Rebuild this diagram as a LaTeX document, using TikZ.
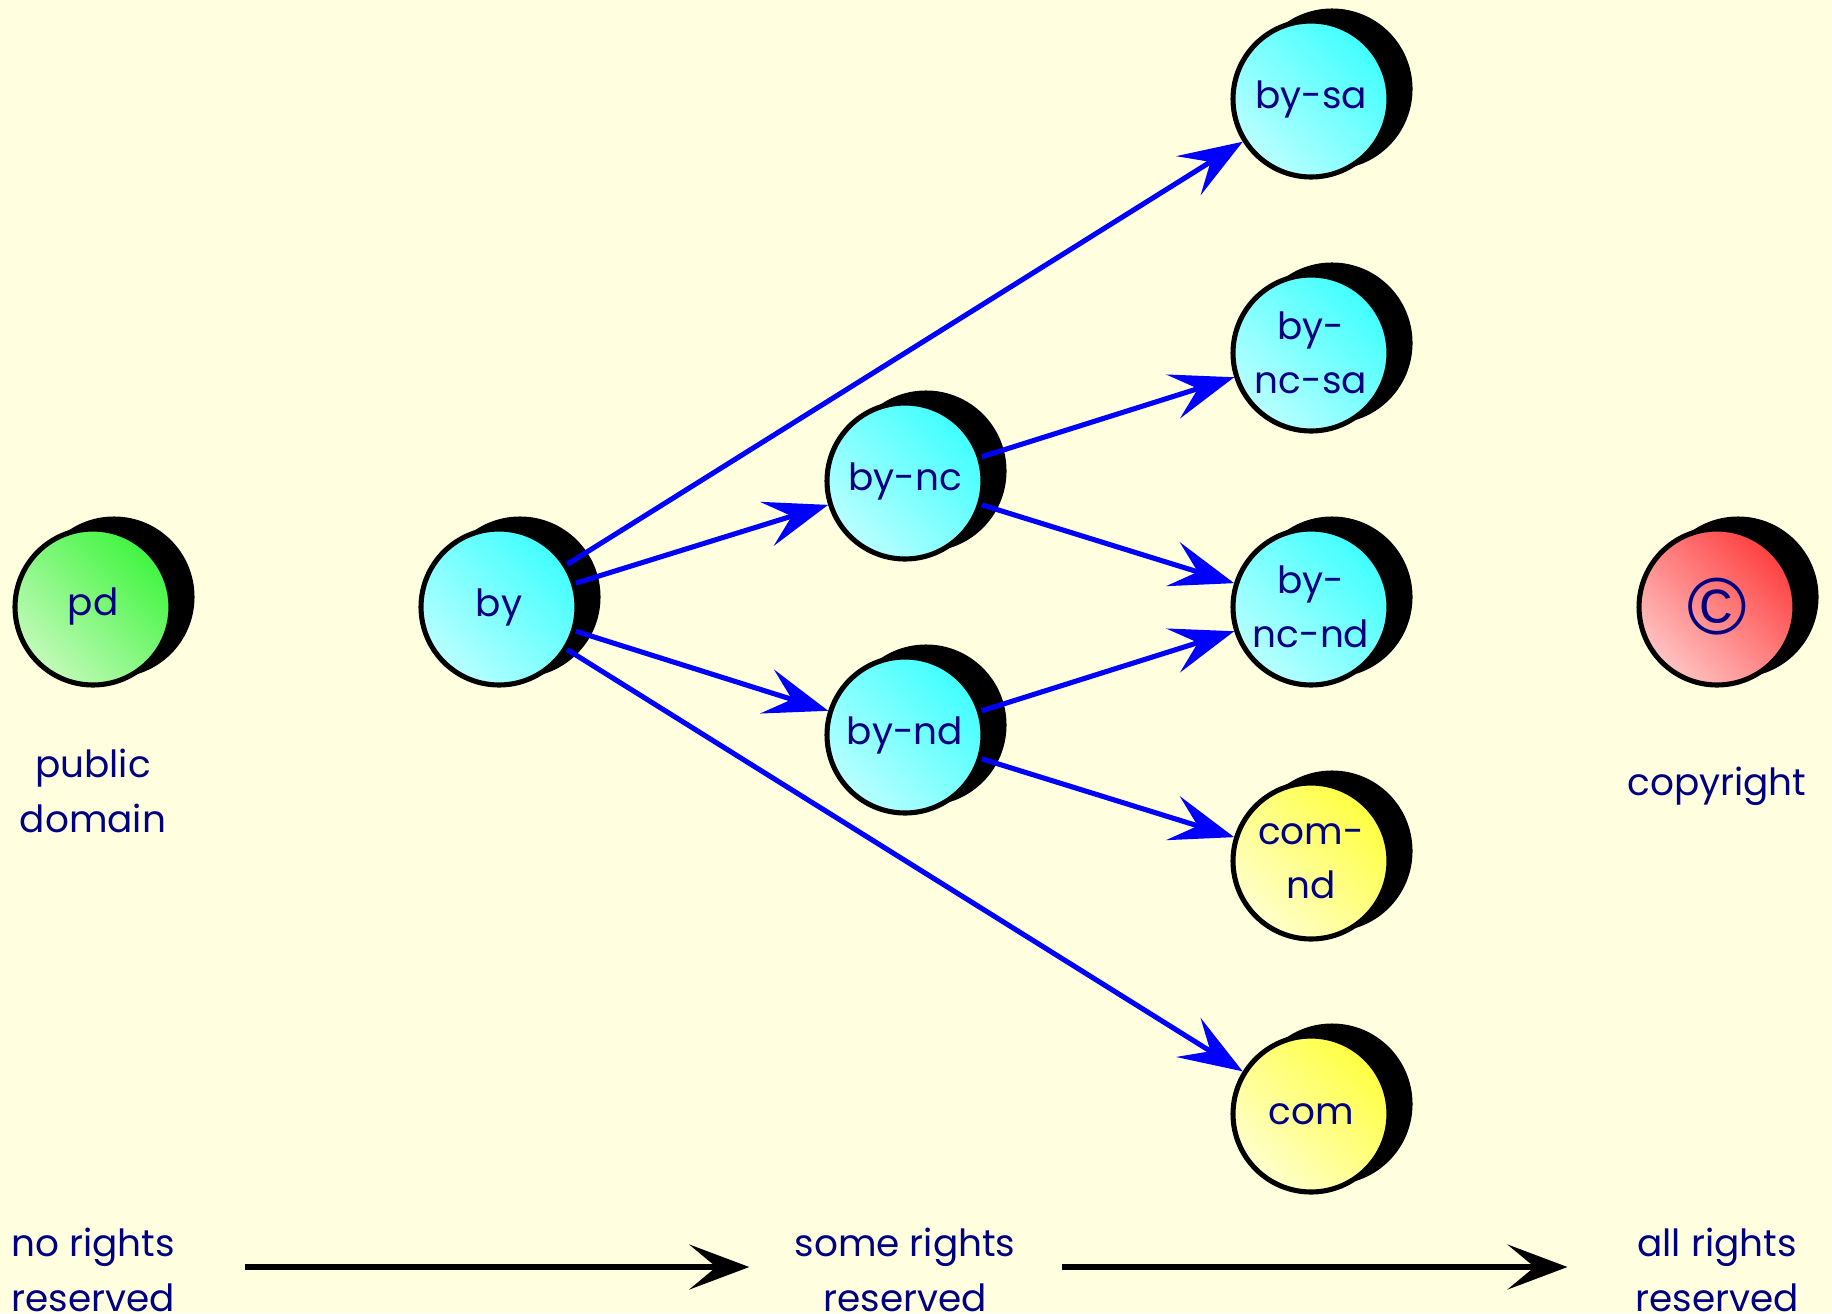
\documentclass[tikz,border=0pt]{standalone}
\usepackage{fontspec}
\setmainfont{Poppins}
\newfontfamily\symbfont{Liberation Sans}
\usetikzlibrary{arrows.meta}
\usetikzlibrary{shadows}

\definecolor{paper}{RGB}{255,255,224}
\definecolor{ink}{RGB}{0,0,128}
\definecolor{edgeblue}{RGB}{0,0,255}
\definecolor{cyanhi}{RGB}{64,255,255}
\definecolor{cyanlo}{RGB}{185,255,255}
\definecolor{greenhi}{RGB}{64,245,64}
\definecolor{greenlo}{RGB}{195,250,185}
\definecolor{redhi}{RGB}{255,64,64}
\definecolor{redlo}{RGB}{255,195,195}
\definecolor{yellowhi}{RGB}{255,255,64}
\definecolor{yellowlo}{RGB}{255,255,205}
\newcommand{\licfont}{\fontsize{21.3}{31}\selectfont}

\tikzset{
    lic/.style={circle, draw=black, line width=2.9pt, minimum size=3.12cm,
        inner sep=0pt, align=center, text=ink, font=\licfont,
        top color=#1hi, bottom color=#1lo, shading angle=-45,
        copy shadow={shadow xshift=0.42cm, shadow yshift=0.2cm, fill=black, draw=black}},
    caption/.style={align=center, text=ink, font=\licfont, inner sep=0pt},
    link/.style={draw=edgeblue, line width=2.9pt, -{Stealth[length=1.28cm, width=0.92cm, inset=0.52cm]}},
    rightsarrow/.style={draw=black, line width=3.6pt, -{Stealth[length=1.2cm, width=0.9cm, inset=0.54cm]}}
}

\begin{document}
\begin{tikzpicture}[x=0.02cm, y=-0.02cm]
    \fill[paper] (0,0) rectangle (1832,1313);
    \useasboundingbox (0,0) rectangle (1832,1313);

    \node[lic=green] (pd) at (93,607) {pd};
    \node[lic=cyan] (by) at (499,607) {by};
    \node[lic=cyan] (bync) at (905,481) {by-nc};
    \node[lic=cyan] (bynd) at (905,735) {by-nd};
    \node[lic=cyan] (bysa) at (1311,99) {by-sa};
    \node[lic=cyan] (byncsa) at (1311,353) {by-\\nc-sa};
    \node[lic=cyan] (byncnd) at (1311,607) {by-\\nc-nd};
    \node[lic=yellow] (comnd) at (1311,861) {com-\\nd};
    \node[lic=yellow] (com) at (1311,1114) {com};
    \node[lic=red] (copy) at (1717,607) {\symbfont\fontsize{46}{46}\selectfont\textcopyright};

    \node[caption] (pdname) at (93,791) {public\\domain};
    \node[caption] (copyname) at (1717,786) {copyright};

    \node[caption] (none) at (93,1270) {no rights\\reserved};
    \node[caption] (some) at (905,1270) {some rights\\reserved};
    \node[caption] (all) at (1717,1270) {all rights\\reserved};

    \foreach \a/\b in {by/bysa, by/bync, by/bynd, by/com, bync/byncsa, bync/byncnd, bynd/byncnd, bynd/comnd}
        \draw[link] (\a) -- (\b);

    \draw[rightsarrow] (none.east |- 0,1267) ++(70,0) coordinate (noneend) -- ([xshift=-0.9cm]some.west |- 0,1267);
    \draw[rightsarrow] (some.east |- 0,1267) ++(46,0) coordinate (someend) -- ([xshift=-1.35cm]all.west |- 0,1267);
\end{tikzpicture}
\end{document}
